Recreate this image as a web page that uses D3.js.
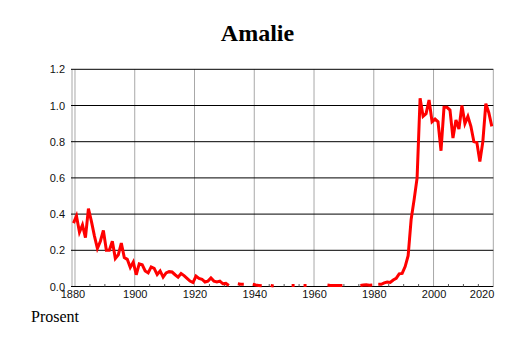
<!DOCTYPE html>
<html><head><meta charset="utf-8">
<script src="https://cdn.jsdelivr.net/npm/d3@7/dist/d3.min.js"></script>
<style>body{margin:0;background:#fff}svg{display:block}</style>
</head><body>
<script>
const chartTitle = "Amalie";
const unitLabel = "Prosent";
const years = [
  1879,1880,1881,1882,1883,1884,1885,1886,1887,1888,1889,
  1890,1891,1892,1893,1894,1895,1896,1897,1898,1899,
  1900,1901,1902,1903,1904,1905,1906,1907,1908,1909,
  1910,1911,1912,1913,1914,1915,1916,1917,1918,1919,
  1920,1921,1922,1923,1924,1925,1926,1927,1928,1929,
  1930,1931,1932,1933,1934,1935,1936,1937,1938,1939,
  1940,1941,1942,1943,1944,1945,1946,1947,1948,1949,
  1950,1951,1952,1953,1954,1955,1956,1957,1958,1959,
  1960,1961,1962,1963,1964,1965,1966,1967,1968,1969,
  1970,1971,1972,1973,1974,1975,1976,1977,1978,1979,
  1980,1981,1982,1983,1984,1985,1986,1987,1988,1989,
  1990,1991,1992,1993,1994,1995,1996,1997,1998,1999,
  2000,2001,2002,2003,2004,2005,2006,2007,2008,2009,
  2010,2011,2012,2013,2014,2015,2016,2017,2018,2019
];
const shares = [
  0.35,0.39,0.30,0.34,0.27,0.43,0.36,0.28,0.21,0.25,0.31,
  0.20,0.20,0.25,0.155,0.175,0.24,0.16,0.15,0.105,0.135,
  0.065,0.125,0.12,0.086,0.075,0.108,0.10,0.066,0.086,0.052,
  0.075,0.082,0.08,0.065,0.052,0.072,0.06,0.045,0.03,0.022,
  0.058,0.045,0.04,0.025,0.03,0.047,0.03,0.025,0.03,0.015,
  0.017,0.006,null,null,0.015,0.012,0.012,null,null,0.012,
  0.008,0.006,0.004,null,null,0.006,0.003,null,null,null,
  null,null,0.006,0.006,null,null,0.006,0.006,null,null,
  null,null,null,null,0.008,0.006,0.005,0.005,0.005,0.005,
  null,null,null,null,null,0.006,0.008,0.01,0.007,0.008,
  null,0.012,0.012,0.02,0.025,0.022,0.036,0.045,0.07,0.072,
  0.11,0.17,0.37,0.48,0.60,1.04,0.94,0.955,1.03,0.91,
  0.925,0.91,0.75,0.99,0.99,0.975,0.82,0.92,0.87,1.0,
  0.90,0.94,0.885,0.80,0.795,0.69,0.80,1.01,0.96,0.885
];
const xTickYears = [1880,1900,1920,1940,1960,1980,2000,2020];
const yTickValues = [0,0.2,0.4,0.6,0.8,1.0,1.2];

const data = years.map((yr,i)=>({year:yr, v:shares[i]}));

const W=514,H=343;
const svg = d3.select("body").append("svg").attr("width",W).attr("height",H);
svg.append("rect").attr("width",W).attr("height",H).attr("fill","#fff");

const x = d3.scaleLinear().domain([1879,2020]).range([72,493.3]);
const y = d3.scaleLinear().domain([0,1.2]).range([286.5,69.3]);

// vertical grid
svg.append("line").attr("x1",72).attr("x2",72).attr("y1",y(1.2)).attr("y2",y(0))
  .attr("stroke","#a8a8a8").attr("stroke-width",1);
svg.append("g").selectAll("line").data(xTickYears).join("line")
  .attr("x1",d=>x(d)).attr("x2",d=>x(d)).attr("y1",y(1.2)).attr("y2",y(0))
  .attr("stroke","#a8a8a8").attr("stroke-width",1);

// horizontal grid
svg.append("g").selectAll("line").data(yTickValues).join("line")
  .attr("x1",71).attr("x2",x(2020)).attr("y1",d=>y(d)).attr("y2",d=>y(d))
  .attr("stroke","#000").attr("stroke-width",1);

// minor ticks on x axis
const minor = d3.range(1885,2020,5).filter(d=>d%20!==0);
svg.append("g").selectAll("line").data(minor).join("line")
  .attr("x1",d=>x(d)).attr("x2",d=>x(d)).attr("y1",y(0)).attr("y2",y(0)-2.5)
  .attr("stroke","#555").attr("stroke-width",1);

// y labels
const yAxis = svg.append("g").attr("transform","translate(72,0)")
  .call(d3.axisLeft(y).tickValues(yTickValues).tickSize(0).tickPadding(7).tickFormat(d3.format(".1f")));
yAxis.select(".domain").remove();
yAxis.selectAll("text").attr("font-family","'Liberation Sans',Arial,Helvetica,sans-serif")
  .attr("font-size",11).attr("fill","#111");

// x labels
const xAxis = svg.append("g").attr("transform",`translate(0,${y(0)})`)
  .call(d3.axisBottom(x).tickValues(xTickYears).tickSize(0).tickPadding(3.5).tickFormat(d3.format("d")));
xAxis.select(".domain").remove();
xAxis.selectAll("text").attr("font-family","'Liberation Sans',Arial,Helvetica,sans-serif")
  .attr("font-size",11).attr("fill","#111");
xAxis.selectAll("text").filter(d=>d===xTickYears[0]).attr("dx",-2.5);
xAxis.selectAll("text").filter(d=>d===xTickYears[xTickYears.length-1]).attr("text-anchor","end").attr("dx",0.5);

// clip
svg.append("clipPath").attr("id","plotclip").append("rect")
  .attr("x",72).attr("y",55).attr("width",x(2020)-72).attr("height",240);

const line = d3.line().defined(d=>d.v!==null).x(d=>x(d.year+0.5)).y(d=>y(d.v));
svg.append("path").datum(data).attr("d",line).attr("clip-path","url(#plotclip)")
  .attr("fill","none").attr("stroke","#ff0000").attr("stroke-width",3);

// title
svg.append("text").attr("x",257.5).attr("y",41).attr("text-anchor","middle")
  .attr("font-family","'Liberation Serif','Times New Roman',serif").attr("font-weight","bold")
  .attr("font-size",24).text(chartTitle);
svg.append("text").attr("x",31).attr("y",322)
  .attr("font-family","'Liberation Serif','Times New Roman',serif")
  .attr("font-size",16).text(unitLabel);
</script>
</body></html>
